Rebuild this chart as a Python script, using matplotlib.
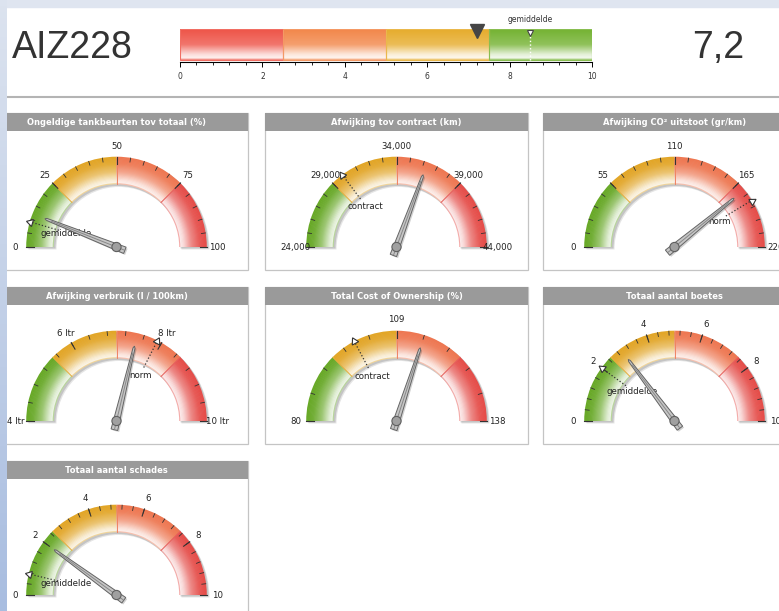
import numpy as np
import matplotlib
matplotlib.use("Agg")
import matplotlib.pyplot as plt
from matplotlib.patches import Rectangle, Wedge, Polygon, Circle
from matplotlib.colors import to_rgb
from matplotlib.ticker import MultipleLocator

W, H = 779, 611

# ---- data -------------------------------------------------------------
vehicle = "AIZ228"
score_text = "7,2"
score_value = 7.2
score_avg = 8.5
score_ticks = [0, 2, 4, 6, 8, 10]
score_bands = [0, 2.5, 5, 7.5, 10]

titles = [
    "Ongeldige tankbeurten tov totaal (%)",
    "Afwijking tov contract (km)",
    "Afwijking CO² uitstoot (gr/km)",
    "Afwijking verbruik (l / 100km)",
    "Total Cost of Ownership (%)",
    "Totaal aantal boetes",
    "Totaal aantal schades",
]
g_min = [0, 24000, 0, 4, 80, 0, 0]
g_max = [100, 44000, 220, 10, 138, 10, 10]
g_labels = [
    ["0", "25", "50", "75", "100"],
    ["24,000", "29,000", "34,000", "39,000", "44,000"],
    ["0", "55", "110", "165", "220"],
    ["4 ltr", "6 ltr", "8 ltr", "10 ltr"],
    ["80", "109", "138"],
    ["0", "2", "4", "6", "8", "10"],
    ["0", "2", "4", "6", "8", "10"],
]
g_value = [12, 36250, 172, 7.45, 114.8, 2.95, 2.0]
g_ref = [9, 29900, 182, 7.9, 100, 2.0, 0.75]
g_ref_label = ["gemiddelde", "contract", "norm", "norm", "contract",
               "gemiddelde", "gemiddelde"]

# ---- styling ----------------------------------------------------------
bar_colors = ["#ee5448", "#f2874a", "#e6ac2c", "#74b232"]
band_colors = ["#67a826", "#e2a526", "#ee7650", "#e54c48"]
TXT = "#333333"
HDR_COL = "#9a9a9a"

R_OUT, R_IN = 90, 63
PW, HDR, PH, CY = 263, 18, 157, 134
col_x = [-15, 265, 543]
row_y = [113, 287, 461]
slots = [(0, 0), (0, 1), (0, 2), (1, 0), (1, 1), (1, 2), (2, 0)]


def fig_rect(x0, y0, x1, y1):
    return [x0 / W, 1 - y1 / H, (x1 - x0) / W, (y1 - y0) / H]


def mix_white(c, w):
    c = np.array(to_rgb(c))
    return tuple(c * (1 - w) + np.ones(3) * w)


def band_weight(t):
    # t = 0 inner edge, 1 outer edge
    return np.interp(t, [0, 0.06, 0.16, 0.45, 0.75, 1],
                     [0.35, 0.88, 0.8, 0.35, 0.08, 0.0])


def bar_weight(t):
    # t = 0 bottom edge, 1 top edge
    return np.interp(t, [0, 0.06, 0.18, 0.5, 1], [0.25, 0.92, 0.8, 0.2, 0.0])


fig = plt.figure(figsize=(W / 100, H / 100), dpi=100)
fig.patch.set_facecolor("white")

bg = fig.add_axes([0, 0, 1, 1])
bg.set_xlim(0, W)
bg.set_ylim(H, 0)
bg.axis("off")

# page frame: light blue strips on top and left
bg.add_patch(Rectangle((0, 0), W, 7, color="#dfe5f0", zorder=5))
strip = np.linspace(0, 1, 100)[:, None, None]
top_c, bot_c = np.array(to_rgb("#dce3ef")), np.array(to_rgb("#a8bde0"))
bg.plot([7, W], [97, 97], color="#b4b4b4", lw=1.5, zorder=2)

bg.text(12, 48, vehicle, fontsize=27, family="Liberation Sans", color=TXT,
        ha="left", va="center")
bg.text(692, 48, score_text, fontsize=27, family="Liberation Sans", color=TXT,
        ha="left", va="center")

# panels
for (r, c), title in zip(slots, titles):
    x0, y0 = col_x[c], row_y[r]
    bg.add_patch(Rectangle((x0, y0), PW, PH, facecolor="white",
                           edgecolor="#c4c4c4", lw=0.9, zorder=1))
    bg.add_patch(Rectangle((x0, y0), PW, HDR, facecolor=HDR_COL,
                           edgecolor="none", zorder=1.5))
    bg.text(x0 + PW / 2, y0 + HDR / 2 + 0.5, title, fontsize=6, weight="bold",
            color="white", ha="center", va="center", zorder=2)

# ---- score bar --------------------------------------------------------
bax = fig.add_axes(fig_rect(180, 29, 592, 62))
bax.set_xlim(0, 10)
bax.set_ylim(-2 / 31, 1)
bax.patch.set_visible(False)
for s in ["top", "left", "right"]:
    bax.spines[s].set_visible(False)
bax.spines["bottom"].set_linewidth(0.8)
bax.set_yticks([])
bax.set_xticks(score_ticks)
bax.xaxis.set_minor_locator(MultipleLocator(0.4))
bax.tick_params(axis="x", which="major", length=3.5, width=0.7, labelsize=5.5,
                pad=4, labelcolor=TXT)
bax.tick_params(axis="x", which="minor", length=2, width=0.6)

yy = np.linspace(0, 1, 60)
for lo, hi, col in zip(score_bands[:-1], score_bands[1:], bar_colors):
    img = np.array([mix_white(col, bar_weight(v)) for v in yy])[:, None, :]
    bax.imshow(img, extent=(lo, hi, 0, 1), origin="lower", aspect="auto",
               interpolation="bilinear", zorder=1)
    bax.add_patch(Rectangle((lo, 0), hi - lo, 1, facecolor="none",
                            edgecolor=mix_white(col, 0.15), lw=0.8, zorder=2))
bax.plot([score_avg, score_avg], [0, 0.8], color="white", ls=":", lw=1, zorder=3)
bax.plot(score_avg, 0.88, marker="v", ms=5, mfc="white", mec="#444444",
         mew=0.8, zorder=4, clip_on=False)
bax.text(score_avg, 1.3, "gemiddelde", fontsize=5.5, color=TXT, ha="center",
         va="center")
bax.plot(score_value, 0.93, marker="v", ms=10, color="#454545", zorder=5,
         clip_on=False)


# ---- gauges -----------------------------------------------------------
def draw_gauge(ax, vmin, vmax, labels, value, ref, ref_label):
    def ang(v):
        return np.pi * (1 - (v - vmin) / (vmax - vmin))

    def seg(a, r0, r1):
        return [r0 * np.cos(a), r1 * np.cos(a)], [r0 * np.sin(a), r1 * np.sin(a)]

    # drop shadow
    for off, a in [(2.5, 0.10), (1.5, 0.14)]:
        ax.add_patch(Wedge((off, -off), R_OUT + 0.5, 0, 180,
                           width=R_OUT - R_IN + 1, color="black", alpha=a,
                           lw=0, zorder=1))

    edges = np.linspace(vmin, vmax, 5)
    nsteps = 24
    rr = np.linspace(R_IN, R_OUT, nsteps + 1)
    for i, col in enumerate(band_colors):
        t1 = np.degrees(ang(edges[i + 1]))
        t2 = np.degrees(ang(edges[i]))
        for k in range(nsteps):
            t = (k + 0.5) / nsteps
            ax.add_patch(Wedge((0, 0), rr[k + 1] + 0.3, t1, t2,
                               width=rr[k + 1] - rr[k] + 0.6,
                               color=mix_white(col, band_weight(t)), lw=0,
                               zorder=2))
    for e, col in zip(edges[1:4], band_colors[1:]):
        ax.plot(*seg(ang(e), R_IN, R_OUT), color=mix_white(col, 0.1), lw=0.7,
                zorder=3)

    # ticks and labels
    nmaj = len(labels)
    majors = np.linspace(vmin, vmax, nmaj)
    minors = np.linspace(vmin, vmax, (nmaj - 1) * 5 + 1)
    for v in minors:
        ax.plot(*seg(ang(v), 86, 90), color="#333333", lw=0.6, zorder=4)
    for v, lab in zip(majors, labels):
        a = ang(v)
        ax.plot(*seg(a, 83, 90.5), color="#333333", lw=0.8, zorder=4)
        ax.text(101 * np.cos(a), 101 * np.sin(a), lab, fontsize=6.2,
                color="#222222", ha="center", va="center", zorder=5)

    # reference marker
    a = ang(ref)
    ax.plot(*seg(a, 60, 88), color="#333333", ls=":", lw=0.9, zorder=5)
    ax.plot(90 * np.cos(a), 90 * np.sin(a), marker=(3, 0, np.degrees(a) - 90),
            ms=6, mfc="white", mec="#333333", mew=0.8, zorder=6)
    ax.text(52 * np.cos(a), 52 * np.sin(a) - 1, ref_label, fontsize=6.2,
            color="#222222", ha="center", va="center", zorder=5)

    # needle
    a = ang(value)
    u = np.array([np.cos(a), np.sin(a)])
    p = np.array([-np.sin(a), np.cos(a)])
    shape = [(-9, -3.4), (75, -1.0), (77, 0), (75, 1.0), (-9, 3.4)]
    pts = [u * s + p * q for s, q in shape]
    ax.add_patch(Polygon([(x + 1.5, y - 1.5) for x, y in pts], closed=True,
                         color="black", alpha=0.18, lw=0, zorder=7))
    ax.add_patch(Polygon(pts, closed=True, facecolor="#c6c6c6",
                         edgecolor="#646464", lw=0.7, zorder=8))
    ax.plot(*seg(a, -8, 70), color="#888888", lw=0.7, zorder=8)
    ax.add_patch(Circle((0, 0), 4.6, facecolor="#a0a0a0", edgecolor="#606060",
                        lw=0.8, zorder=9))


for i, (r, c) in enumerate(slots):
    x0, y0 = col_x[c], row_y[r]
    ax = fig.add_axes(fig_rect(x0, y0 + HDR, x0 + PW, y0 + PH))
    ax.set_xlim(-PW / 2, PW / 2)
    ax.set_ylim(-(PH - CY), CY - HDR)
    ax.axis("off")
    draw_gauge(ax, g_min[i], g_max[i], g_labels[i], g_value[i], g_ref[i],
               g_ref_label[i])

# left strip on top of the clipped first column
sax = fig.add_axes(fig_rect(0, 0, 7, H))
sax.axis("off")
sax.imshow(top_c * (1 - strip) + bot_c * strip, extent=(0, 1, 0, 1),
           aspect="auto")

fig.savefig("out.png", dpi=100)
